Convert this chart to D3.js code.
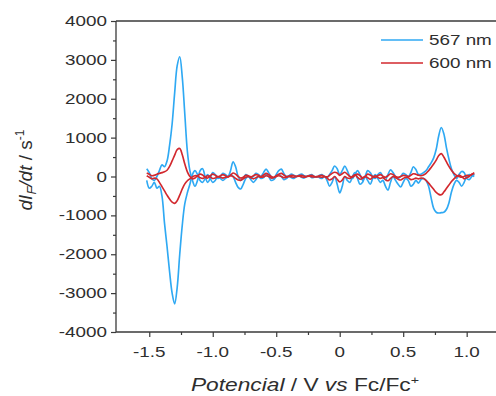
<!DOCTYPE html>
<html><head><meta charset="utf-8">
<script src="https://cdn.jsdelivr.net/npm/d3@7"></script>
<style>html,body{margin:0;padding:0;background:#fff;}svg{display:block;}</style>
</head><body>
<svg id="chart" width="496" height="396"></svg>
<script>
// ---- data ----
const potential = [
 -1.52,-1.50,-1.48,-1.46,-1.44,-1.42,-1.40,-1.38,-1.36,-1.34,
 -1.32,-1.30,-1.28,-1.26,-1.24,-1.22,-1.20,-1.18,-1.16,-1.14,
 -1.12,-1.10,-1.08,-1.06,-1.04,-1.02,-1.00,-0.98,-0.96,-0.94,
 -0.92,-0.90,-0.88,-0.86,-0.84,-0.82,-0.80,-0.78,-0.76,-0.74,
 -0.72,-0.70,-0.68,-0.66,-0.64,-0.62,-0.60,-0.58,-0.56,-0.54,
 -0.52,-0.50,-0.48,-0.46,-0.44,-0.42,-0.40,-0.38,-0.36,-0.34,
 -0.32,-0.30,-0.28,-0.26,-0.24,-0.22,-0.20,-0.18,-0.16,-0.14,
 -0.12,-0.10,-0.08,-0.06,-0.04,-0.02,0.00,0.02,0.04,0.06,
 0.08,0.10,0.12,0.14,0.16,0.18,0.20,0.22,0.24,0.26,
 0.28,0.30,0.32,0.34,0.36,0.38,0.40,0.42,0.44,0.46,
 0.48,0.50,0.52,0.54,0.56,0.58,0.60,0.62,0.64,0.66,
 0.68,0.70,0.72,0.74,0.76,0.78,0.80,0.82,0.84,0.86,
 0.88,0.90,0.92,0.94,0.96,0.98,1.00,1.02,1.04,1.06
];
const blue567Fwd = [
 200,100,-50,-100,0,150,300,250,400,800,
 1350,2150,2850,3080,2550,1600,650,150,-100,-250,
 -100,150,200,0,-150,-50,100,50,-50,0,
 80,50,0,150,380,250,0,-100,-50,50,
 0,-50,0,80,50,0,100,190,100,0,
 -50,50,150,190,80,0,20,60,30,0,
 40,60,20,0,30,50,0,-20,30,50,
 0,-30,50,150,270,200,50,150,270,150,
 0,-50,50,150,50,-100,0,150,100,0,
 -50,50,100,0,-80,50,170,100,0,-50,
 0,80,50,0,100,250,180,50,60,100,
 150,250,350,480,700,1050,1260,1100,750,450,
 200,50,-50,50,130,100,-50,-80,0,60
];
const blue567Rev = [
 -100,-300,-250,-150,-300,-250,-500,-1200,-1800,-2450,
 -3000,-3280,-2850,-2000,-1250,-700,-420,-200,50,150,
 50,-100,-150,-50,50,-50,-150,-100,0,-50,
 -100,-50,0,50,0,-150,-280,-320,-200,-50,
 0,-80,-150,-80,0,-50,-30,50,0,-100,
 -80,0,50,0,-80,-50,0,-30,-50,0,
 20,-20,-40,0,20,-30,-20,0,-30,-50,
 0,-100,-250,-150,0,-200,-420,-250,0,-100,
 -150,0,100,-50,-200,-150,0,-100,-200,-50,
 50,-50,-150,-100,-250,-350,-150,0,-100,-200,
 -270,-150,-50,-100,-250,-200,-100,-170,-80,-50,
 -100,-250,-550,-820,-920,-940,-930,-920,-850,-680,
 -400,-200,-100,-150,-250,-150,0,50,30,0
];
const red600Fwd = [
 90,60,20,30,60,80,100,120,160,260,
 400,550,690,720,560,320,120,0,-60,-40,
 20,60,40,-20,-40,20,60,30,-10,20,
 50,20,-20,30,90,60,0,-40,-20,30,
 20,-10,20,50,30,0,40,80,50,0,
 -20,20,60,80,40,0,10,30,20,0,
 20,30,10,0,20,30,0,-10,20,30,
 0,-10,30,80,110,90,30,70,110,60,
 0,-20,30,60,20,-30,0,60,40,0,
 -20,20,50,10,-20,20,70,50,0,-20,
 0,30,20,0,30,70,60,30,20,40,
 80,150,230,320,420,540,590,500,380,260,
 160,80,30,0,-20,0,30,20,50,80
];
const red600Rev = [
 20,-20,-60,-40,-60,-150,-260,-370,-480,-580,
 -660,-690,-620,-480,-320,-190,-110,-60,-10,20,
 10,-30,-50,-20,20,-10,-50,-40,0,-20,
 -40,-20,0,20,0,-50,-90,-100,-60,-20,
 0,-30,-60,-30,0,-20,-10,20,0,-40,
 -30,0,20,0,-30,-20,0,-10,-20,0,
 10,-10,-20,0,10,-10,-10,0,-10,-20,
 0,-40,-90,-60,0,-70,-140,-90,0,-40,
 -50,0,40,-20,-70,-50,0,-30,-70,-20,
 20,-20,-50,-30,-80,-110,-50,0,-30,-70,
 -90,-50,-20,-30,-80,-70,-40,-60,-40,-50,
 -100,-170,-250,-330,-410,-460,-470,-400,-310,-220,
 -130,-60,0,30,0,-60,-30,0,60,100
];
const seriesNames = ["567 nm", "600 nm"];
const seriesColors = ["#2fa9f3", "#d2282e"];
const xMajorTicks = [-1.5,-1.0,-0.5,0,0.5,1.0];
const xTickLabels = ["-1.5","-1.0","-0.5","0","0.5","1.0"];
const xMinorTicks = [-1.25,-0.75,-0.25,0.25,0.75];
const yMajorTicks = [-4000,-3000,-2000,-1000,0,1000,2000,3000,4000];
const yMinorTicks = [-3500,-2500,-1500,-500,500,1500,2500,3500];

// ---- drawing ----
const svg = d3.select("#chart");
const SX = 1.3; // horizontal text stretch seen in the reference
const font = "'Liberation Sans', Arial, sans-serif";
const axisColor = "#3a3a3a";
const textColor = "#2e2e2e";

const x = d3.scaleLinear().domain([-1.762, 1.238]).range([116, 496.9]);
const y = d3.scaleLinear().domain([-4000, 4000]).range([332, 21]);

// data lines
const line = d3.line().x(d => x(d[0])).y(d => y(d[1])).curve(d3.curveCatmullRom.alpha(0.5));
const curves = [
  {vals: blue567Fwd, c: seriesColors[0]},
  {vals: blue567Rev, c: seriesColors[0]},
  {vals: red600Fwd, c: seriesColors[1]},
  {vals: red600Rev, c: seriesColors[1]}
];
svg.append("g").selectAll("path").data(curves).join("path")
  .attr("d", d => line(potential.map((p, i) => [p, d.vals[i]])))
  .attr("fill", "none").attr("stroke", d => d.c).attr("stroke-width", 1.65)
  .attr("stroke-linejoin", "round");

// axes ticks
const gy = svg.append("g").attr("transform", "translate(116,0)");
gy.call(d3.axisLeft(y).tickValues(yMajorTicks).tickSize(5).tickFormat(""));
const gy2 = svg.append("g").attr("transform", "translate(116,0)");
gy2.call(d3.axisLeft(y).tickValues(yMinorTicks).tickSize(3).tickFormat(""));
const gx = svg.append("g").attr("transform", "translate(0,332)");
gx.call(d3.axisBottom(x).tickValues(xMajorTicks).tickSize(5).tickFormat(""));
const gx2 = svg.append("g").attr("transform", "translate(0,332)");
gx2.call(d3.axisBottom(x).tickValues(xMinorTicks).tickSize(3).tickFormat(""));
[gy, gy2, gx, gx2].forEach(g => {
  g.select(".domain").remove();
  g.selectAll(".tick line").attr("stroke", axisColor).attr("stroke-width", 1.2);
});

// frame lines
svg.append("line").attr("x1", 116).attr("x2", 116).attr("y1", 21).attr("y2", 332)
  .attr("stroke", axisColor).attr("stroke-width", 1.3);
svg.append("line").attr("x1", 116).attr("x2", 496).attr("y1", 332).attr("y2", 332)
  .attr("stroke", axisColor).attr("stroke-width", 1.3);
svg.append("line").attr("x1", 116).attr("x2", 496).attr("y1", 21).attr("y2", 21)
  .attr("stroke", axisColor).attr("stroke-width", 1.3);

// tick labels
svg.append("g").selectAll("text").data(yMajorTicks).join("text")
  .attr("transform", d => `translate(107,${y(d)}) scale(${SX},1)`)
  .attr("dy", "0.35em").attr("text-anchor", "end")
  .attr("font-family", font).attr("font-size", 14.5).attr("fill", textColor)
  .text(d => d);
svg.append("g").selectAll("text").data(xMajorTicks).join("text")
  .attr("transform", d => `translate(${x(d)},357) scale(${SX},1)`)
  .attr("text-anchor", "middle")
  .attr("font-family", font).attr("font-size", 14.5).attr("fill", textColor)
  .text((d, i) => xTickLabels[i]);

// x axis title
const xt = svg.append("text")
  .attr("transform", `translate(305,391) scale(${SX},1)`)
  .attr("text-anchor", "middle").attr("font-family", font)
  .attr("font-size", 17.5).attr("fill", textColor);
xt.append("tspan").attr("font-style", "italic").text("Potencial");
xt.append("tspan").text(" / V ");
xt.append("tspan").attr("font-style", "italic").text("vs");
xt.append("tspan").text(" Fc/Fc");
xt.append("tspan").attr("font-size", 11).attr("dy", -7).text("+");

// y axis title
const yt = svg.append("text")
  .attr("transform", `translate(32,170) rotate(-90)`)
  .attr("text-anchor", "middle").attr("font-family", font)
  .attr("font-size", 19).attr("fill", textColor);
yt.append("tspan").attr("font-style", "italic").text("dI");
yt.append("tspan").attr("font-style", "italic").attr("font-size", 13).attr("dy", 4).text("F");
yt.append("tspan").attr("font-style", "italic").attr("dy", -4).text("/dt");
yt.append("tspan").text(" / s");
yt.append("tspan").attr("font-size", 12).attr("dy", -8).text("-1");

// legend
const legY = [40, 63];
seriesNames.forEach((n, i) => {
  svg.append("line").attr("x1", 381).attr("x2", 423).attr("y1", legY[i]).attr("y2", legY[i])
    .attr("stroke", seriesColors[i]).attr("stroke-width", 1.65);
  svg.append("text").attr("transform", `translate(429,${legY[i]}) scale(${SX},1)`)
    .attr("dy", "0.35em").attr("font-family", font).attr("font-size", 14.5)
    .attr("fill", textColor).text(n);
});
</script>
</body></html>
